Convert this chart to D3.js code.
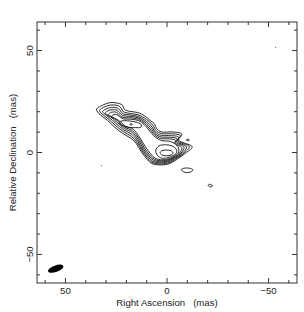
<!DOCTYPE html>
<html>
<head>
<meta charset="utf-8">
<script src="https://cdnjs.cloudflare.com/ajax/libs/d3/7.8.5/d3.min.js"></script>
<style>
  body { margin: 0; background: #fff; }
  text { font-family: "Liberation Sans", Arial, sans-serif; fill: #222; }
</style>
</head>
<body>
<svg class="viz" width="304" height="312"></svg>
<script>
// contour points, [RA offset, Dec offset] in mas
var level1 = [[34.7, 21.2], [31, 23.5], [27.7, 24.5], [23.5, 24], [21.9, 23.2], [21, 21.2], [18.5, 20.2], [14.4, 19.6], [11, 18], [8.5, 15.9], [6, 13.8], [5.2, 11.8], [2.7, 10.1], [-2.4, 10.1], [-7.4, 9.0], [-5.7, 6.1], [-12.4, 2.8], [-9, -0.4], [-5.7, -2.8], [-1.5, -5.3], [2.7, -6.1], [7.7, -5.3], [10.2, -2.8], [12.7, 0.4], [15.2, 4.5], [17.7, 6.9], [21.9, 9.4], [26, 12.6], [29.4, 15.9], [32.7, 18.3]];
var level2 = [[33.2, 20.7], [30.6, 22.4], [27.6, 23.3], [24.2, 23], [22.6, 21.9], [21.6, 20.1], [18.4, 19.2], [14.3, 18.5], [11.2, 17], [8.8, 15.2], [6.6, 12.9], [5.6, 10.9], [2.8, 9.3], [-2.2, 9.2], [-6.6, 8.3], [-5.2, 5.8], [-11, 2.8], [-8.3, -0.3], [-5.3, -2.5], [-1.4, -4.8], [2.7, -5.6], [7.4, -4.8], [9.8, -2.4], [12.3, 0.8], [14.8, 5], [17.5, 7.9], [21.6, 10.3], [25.6, 13.5], [29, 16.6], [31.9, 18.8]];
var level3 = [[31.8, 20], [29.9, 21.4], [27.4, 22.1], [24.6, 21.9], [23.1, 20.7], [21.9, 19.1], [18.2, 18.4], [14.2, 17.7], [11.3, 16.1], [9, 14.3], [7, 12], [5.8, 10], [2.8, 8.4], [-1.8, 8.3], [-5.8, 7.5], [-4.8, 5.4], [-9.6, 2.7], [-7.6, -0.3], [-4.9, -2.3], [-1.3, -4.3], [2.7, -5.1], [7.0, -4.3], [9.4, -2.0], [11.9, 1.2], [14.4, 5.5], [17.3, 8.9], [21.3, 11.1], [25.2, 14.3], [28.5, 17.2], [30.9, 19.1]];
var level4 = [[30.5, 19.2], [29, 20.5], [27, 21], [24.8, 20.8], [23.4, 19.6], [22, 18.2], [18, 17.7], [14.1, 17], [11.3, 15.3], [9.2, 13.4], [7.2, 11.1], [5.9, 9.2], [2.8, 7.6], [-1.4, 7.5], [-5, 6.7], [-4.3, 5], [-8.4, 2.6], [-6.9, -0.3], [-4.5, -2.1], [-1.2, -3.9], [2.6, -4.6], [6.6, -3.8], [9.0, -1.6], [11.5, 1.6], [14, 6], [17.1, 9.8], [21, 11.8], [24.8, 15], [27.9, 17.6], [29.8, 18.6]];
var level5 = [[29.1, 18.3], [27.9, 19.5], [26.4, 19.9], [24.8, 19.7], [23.5, 18.5], [21.9, 17.3], [17.8, 17], [14, 16.3], [11.3, 14.5], [9.3, 12.5], [7.4, 10.2], [5.9, 8.4], [2.7, 6.8], [-1, 6.7], [-4.3, 5.9], [-3.8, 4.5], [-7.3, 2.4], [-6.2, -0.3], [-4.1, -1.9], [-1.1, -3.5], [2.5, -4.1], [6.2, -3.3], [8.6, -1.1], [11.1, 2.1], [13.6, 6.5], [16.9, 10.6], [20.7, 12.4], [24.3, 15.5], [27.2, 17.6]];
var level6 = [[27.6, 17.3], [26.6, 18.4], [25.4, 18.7], [24.1, 18.3], [22.9, 17.2], [21.4, 16.5], [17.6, 16.3], [13.9, 15.6], [11.3, 13.7], [9.4, 11.6], [7.5, 9.3], [5.6, 7.4], [2.5, 5.8], [-0.7, 5.6], [-3.5, 4.6], [-5.7, 2.2], [-5.5, -0.3], [-3.7, -1.7], [-1.0, -3.1], [2.4, -3.6], [5.8, -2.8], [8.1, -0.6], [10.6, 2.7], [13.2, 7.0], [16.6, 11.4], [20.4, 12.9], [23.9, 15.8], [26.3, 16.9]];
var blobLoop = [[23, 15.2], [21, 15.6], [18, 15.4], [14.5, 14.7], [12.6, 13.5], [12.9, 12.4], [15.5, 12.2], [18.5, 12.3], [21.5, 13], [23.5, 14.2]];
var blobPeak = [[18.3, 13.8], [17.7, 14.2], [17.1, 13.8], [17.7, 13.4]];
var coreOuter = [[5.5, 1.2], [4, 3.2], [0.8, 3.8], [-2.5, 3.2], [-4.6, 1.5], [-4.5, -0.5], [-3, -1.5], [-0.5, -2.5], [2.5, -2.8], [4.8, -1.3]];
var coreInner = [[3.4, -0.2], [2.5, 0.9], [0.3, 1.2], [-2, 0.9], [-3, -0.2], [-2.1, -1.2], [0.2, -1.6], [2.4, -1.3]];
var spotWest = [[-7, -8.4], [-8.5, -7.7], [-11, -7.7], [-12.8, -8.5], [-11.5, -9.6], [-8.8, -9.7]];
var spotFar = [[-20.2, -16.1], [-20.9, -15.6], [-22.1, -16], [-22.3, -16.6], [-21.4, -16.9]];
var spotSpike = [[-9.5, 6.1], [-10.1, 6.5], [-11, 6.2], [-10.5, 5.8]];
var specks = [[32.3, -6.4], [-53.5, 51.6]];

// restoring beam: centre, axes (mas), position angle (deg)
var beamRA = 54.8, beamDec = -57, beamMaj = 8, beamMin = 3.2, beamPA = 110;

var raTicks = [60, 50, 40, 30, 20, 10, 0, -10, -20, -30, -40, -50, -60];
var decTicks = [-60, -50, -40, -30, -20, -10, 0, 10, 20, 30, 40, 50, 60];
var majorTicks = [50, 0, -50];

var svg = d3.select(".viz"),
    margin = {top: 22, right: 7, bottom: 29, left: 37},
    width = svg.attr("width") - margin.left - margin.right,
    height = svg.attr("height") - margin.top - margin.bottom;

var x = d3.scaleLinear().domain([64, -64]).range([0, width]);
var y = d3.scaleLinear().domain([-64, 64]).range([height, 0]);

var g = svg.append("g")
    .attr("transform", "translate(" + margin.left + "," + margin.top + ")");

var fmt = function(d) { return d < 0 ? "\u2212" + (-d) : "" + d; };
var tickLen = function(d) { return majorTicks.indexOf(d) >= 0 ? 5 : 3; };

// frame
g.append("rect")
    .attr("width", width)
    .attr("height", height)
    .attr("fill", "none")
    .attr("stroke", "#333")
    .attr("stroke-width", 1);

// inward ticks on all four sides
var tk = g.append("g").attr("stroke", "#333").attr("stroke-width", 1);
tk.selectAll(".tb").data(raTicks).enter().append("line")
    .attr("x1", function(d) { return x(d); }).attr("x2", function(d) { return x(d); })
    .attr("y1", height).attr("y2", function(d) { return height - tickLen(d); });
tk.selectAll(".tt").data(raTicks).enter().append("line")
    .attr("x1", function(d) { return x(d); }).attr("x2", function(d) { return x(d); })
    .attr("y1", 0).attr("y2", function(d) { return tickLen(d); });
tk.selectAll(".tl").data(decTicks).enter().append("line")
    .attr("y1", function(d) { return y(d); }).attr("y2", function(d) { return y(d); })
    .attr("x1", 0).attr("x2", function(d) { return tickLen(d); });
tk.selectAll(".tr").data(decTicks).enter().append("line")
    .attr("y1", function(d) { return y(d); }).attr("y2", function(d) { return y(d); })
    .attr("x1", width).attr("x2", function(d) { return width - tickLen(d); });

// tick labels
g.selectAll(".xl").data(majorTicks).enter().append("text")
    .attr("x", function(d) { return x(d); })
    .attr("y", height + 11)
    .attr("text-anchor", "middle")
    .attr("font-size", "9.6px")
    .text(fmt);
g.selectAll(".yl").data(majorTicks).enter().append("text")
    .attr("transform", function(d) { return "translate(-4," + y(d) + ") rotate(-90)"; })
    .attr("text-anchor", "middle")
    .attr("font-size", "9.6px")
    .text(fmt);

// axis titles
svg.append("text")
    .attr("x", margin.left + x(0))
    .attr("y", 306)
    .attr("text-anchor", "middle")
    .attr("font-size", "9.6px")
    .style("white-space", "pre")
    .text("Right Ascension   (mas)");
svg.append("text")
    .attr("transform", "translate(16," + (margin.top + y(0)) + ") rotate(-90)")
    .attr("text-anchor", "middle")
    .attr("font-size", "9.6px")
    .style("white-space", "pre")
    .text("Relative Declination   (mas)");

// contours
var contours = [level1, level2, level3, level4, level5, level6, blobLoop, blobPeak,
                coreOuter, coreInner, spotWest, spotFar, spotSpike];

var line = d3.line()
    .x(function(d) { return x(d[0]); })
    .y(function(d) { return y(d[1]); })
    .curve(d3.curveCatmullRomClosed.alpha(0.5));

g.append("g").attr("class", "contours")
  .selectAll("path").data(contours).enter().append("path")
    .attr("d", line)
    .attr("fill", "none")
    .attr("stroke", "#111")
    .attr("stroke-width", 0.9);

g.selectAll(".speck").data(specks).enter().append("circle")
    .attr("cx", function(d) { return x(d[0]); })
    .attr("cy", function(d) { return y(d[1]); })
    .attr("r", 0.6)
    .attr("fill", "#555");

// beam
var pa = beamPA * Math.PI / 180;
var dx = x(beamRA + Math.sin(pa)) - x(beamRA),
    dy = y(beamDec + Math.cos(pa)) - y(beamDec);
var ang = Math.atan2(dy, dx) * 180 / Math.PI;
g.append("ellipse")
    .attr("cx", x(beamRA))
    .attr("cy", y(beamDec))
    .attr("rx", Math.abs(x(beamMaj / 2) - x(0)))
    .attr("ry", Math.abs(y(beamMin / 2) - y(0)))
    .attr("transform", "rotate(" + ang + "," + x(beamRA) + "," + y(beamDec) + ")")
    .attr("fill", "#000");
</script>
</body>
</html>
